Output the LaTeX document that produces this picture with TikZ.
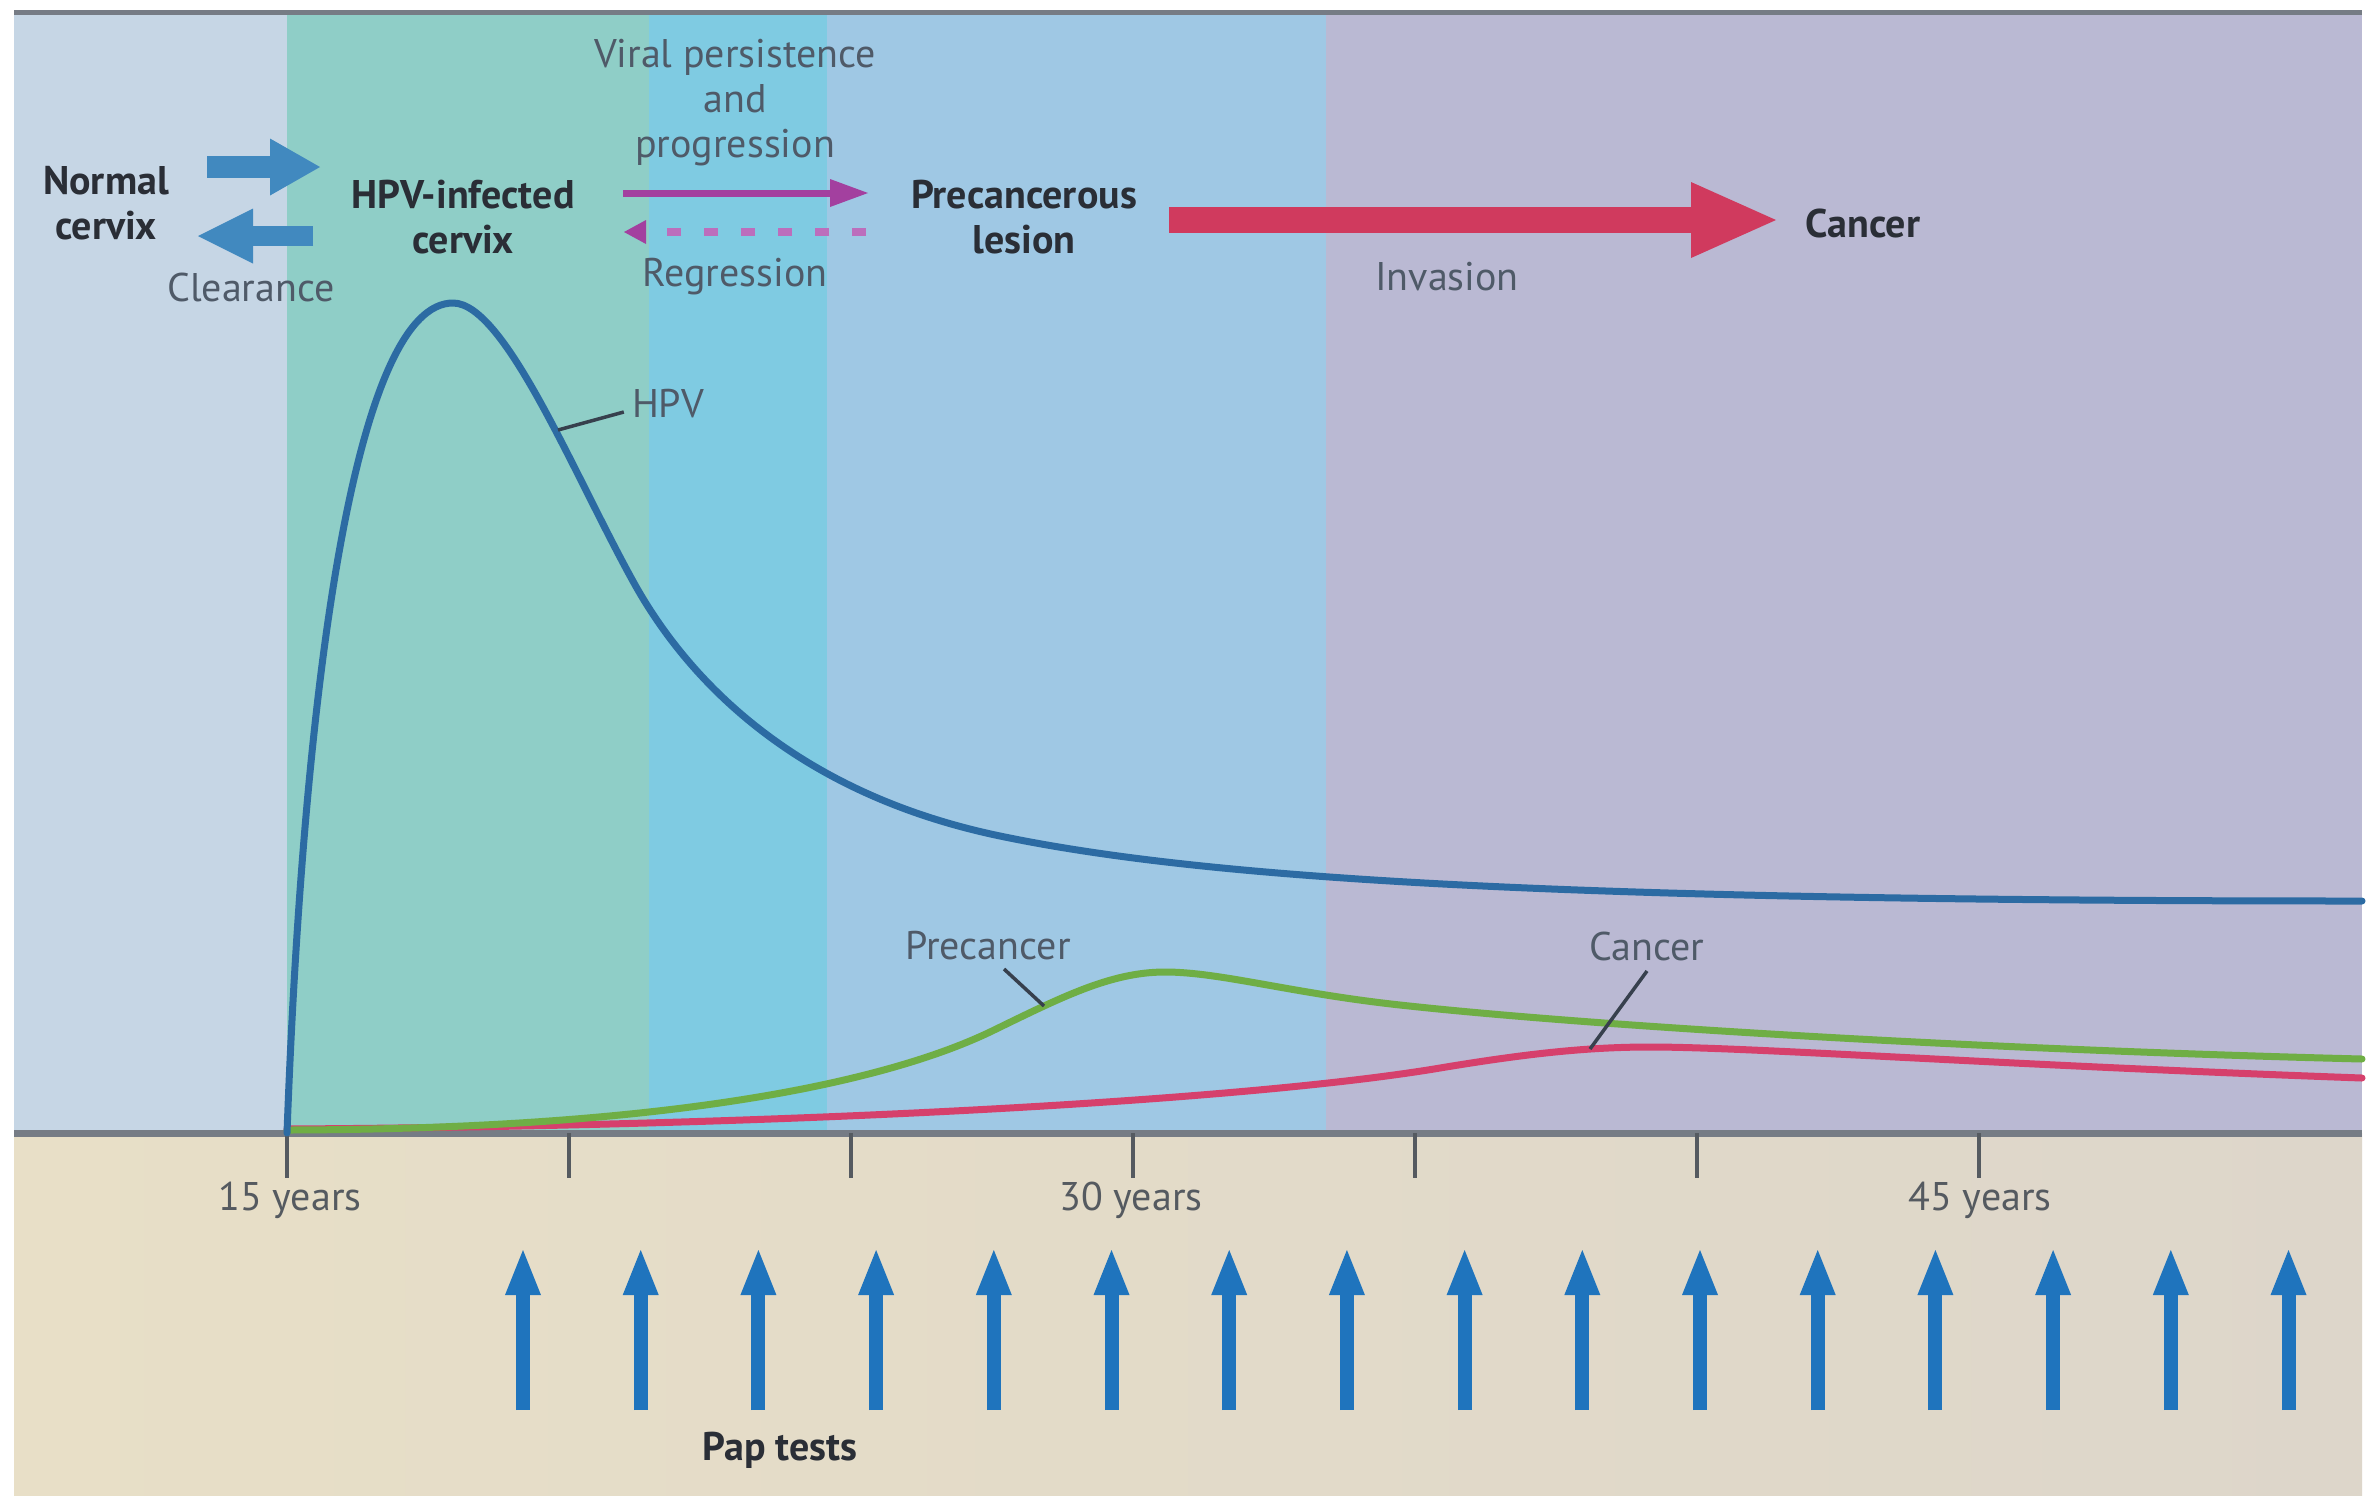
\documentclass[tikz,border=0pt]{standalone}
\usepackage{fontspec}
\setmainfont{PT Sans}
\usetikzlibrary{arrows.meta}
\definecolor{bgA}{HTML}{C6D6E5}
\definecolor{bgB}{HTML}{8FCEC7}
\definecolor{bgC}{HTML}{7FCBE2}
\definecolor{bgD}{HTML}{9FC8E4}
\definecolor{bgE}{HTML}{BAB9D3}
\definecolor{beigeL}{HTML}{E8DFC7}
\definecolor{beigeR}{HTML}{DDD6CA}
\definecolor{hpvblue}{HTML}{2C6BA3}
\definecolor{precgreen}{HTML}{6FAE45}
\definecolor{cancred}{HTML}{D6406C}
\definecolor{steel}{HTML}{4189BF}
\definecolor{purp}{HTML}{A3409F}
\definecolor{purplite}{HTML}{BC6EBC}
\definecolor{bigred}{HTML}{D03A5E}
\definecolor{papblue}{HTML}{1F74BD}
\definecolor{darktxt}{HTML}{2A2E36}
\definecolor{graytxt}{HTML}{4F5A68}
\definecolor{axisgray}{HTML}{767C85}
\definecolor{tickgray}{HTML}{555A60}
\definecolor{leader}{HTML}{37404D}
\tikzset{
  txt/.style={inner sep=0pt, align=center, font=\fontsize{40}{45}\selectfont},
  statelbl/.style={txt, text=darktxt, font=\fontsize{40}{45}\selectfont\bfseries},
  plainlbl/.style={txt, text=graytxt},
  ticklbl/.style={txt, text=tickgray, font=\fontsize{40}{45}\selectfont},
  curve/.style={line width=7pt, line cap=round, line join=round},
  leaderline/.style={draw=leader, line width=3.5pt},
  tickline/.style={draw=tickgray, line width=4pt},
  papar/.style={draw=papblue, line width=14pt, -{Triangle[width=36pt,length=45pt,line width=0pt]}},
}
\begin{document}
\begin{tikzpicture}[x=1pt,y=-1pt]
\useasboundingbox (0,0) rectangle (2366,1505);
\fill[white] (0,0) rectangle (2366,1505);
% background bands
\fill[bgA] (14,12) rectangle (287,1133);
\fill[bgB] (287,12) rectangle (649,1133);
\fill[bgC] (649,12) rectangle (827,1133);
\fill[bgD] (827,12) rectangle (1326,1133);
\fill[bgE] (1326,12) rectangle (2362,1133);
\shade[left color=beigeL, right color=beigeR] (14,1133) rectangle (2362,1495);
\draw[draw=axisgray, line width=5pt] (14,12) -- (2362,12);
% axis and ticks
\draw[draw=axisgray, line width=7pt] (14,1133) -- (2362,1133);
\foreach \x in {287,569,851,1133,1415,1697,1979}
  \draw[tickline] (\x,1133) -- (\x,1178);
\node[ticklbl] (t15) at (290,1200) {15 years};
\node[ticklbl] (t30) at (1131,1200) {30 years};
\node[ticklbl] (t45) at (1980,1200) {45 years};
% curves
\draw[curve, draw=cancred] (287,1129)
  .. controls (800,1126) and (1250,1100) .. (1440,1068)
  .. controls (1530,1053) and (1590,1047) .. (1650,1047)
  .. controls (1750,1047) and (2000,1065) .. (2362,1078);
\draw[curve, draw=precgreen] (287,1130)
  .. controls (700,1129) and (900,1075) .. (990,1032)
  .. controls (1060,998) and (1110,972) .. (1165,972)
  .. controls (1220,972) and (1290,993) .. (1400,1005)
  .. controls (1600,1027) and (2000,1050) .. (2362,1059);
\draw[curve, draw=hpvblue] (287,1133)
  .. controls (305,650) and (360,303) .. (453,303)
  .. controls (505,303) and (574,475) .. (634,583)
  .. controls (679,664) and (780,790) .. (1000,836)
  .. controls (1220,882) and (1600,901) .. (2362,901);
% curve labels
\node[plainlbl] (hpv) at (668,404) {HPV};
\coordinate (hpvpt) at (558,430);
\draw[leaderline] (hpv.west) ++(-8,8) -- (hpvpt);
\node[plainlbl] (prec) at (988,946) {Precancer};
\coordinate (precpt) at (1044,1006);
\draw[leaderline] (1004,969) -- (precpt);
\node[plainlbl] (canc) at (1647,946) {Cancer};
\coordinate (cancpt) at (1590,1049);
\draw[leaderline] (1647,971) -- (cancpt);
% top states
\node[statelbl] (normal) at (106,203) {Normal\\cervix};
\node[statelbl] (infected) at (463,217) {HPV-infected\\cervix};
\node[statelbl] (lesion) at (1024,217) {Precancerous\\lesion};
\node[statelbl] (cancer) at (1863,223) {Cancer};
\node[plainlbl] (clear) at (251,287) {Clearance};
\node[plainlbl] (viral) at (735,103) {Viral persistence\\and\\progression};
\node[plainlbl] (regr) at (735,277) {Regression};
\node[plainlbl] (inv) at (1447,277) {Invasion};
% transition arrows
\coordinate (n2i-a) at (207,167);
\coordinate (n2i-b) at (320,167);
\draw[draw=steel, line width=22pt, -{Triangle[width=57pt,length=50pt,line width=0pt]}] (n2i-a) -- (n2i-b);
\coordinate (i2n-a) at (313,236);
\coordinate (i2n-b) at (198,236);
\draw[draw=steel, line width=20pt, -{Triangle[width=55pt,length=55pt,line width=0pt]}] (i2n-a) -- (i2n-b);
\coordinate (i2l-a) at (623,193);
\coordinate (i2l-b) at (868,193);
\draw[draw=purp, line width=7pt, -{Triangle[width=28pt,length=38pt,line width=0pt]}] (i2l-a) -- (i2l-b);
\coordinate (l2i-a) at (866,232);
\coordinate (l2i-b) at (624,232);
\draw[draw=purplite, line width=8pt, dash pattern=on 14pt off 23pt, -{Triangle[width=24pt,length=22pt,line width=0pt,color=purp]}] (l2i-a) -- (l2i-b);
\coordinate (l2c-a) at (1169,220);
\coordinate (l2c-b) at (1776,220);
\draw[draw=bigred, line width=26pt, -{Triangle[width=76pt,length=85pt,line width=0pt]}] (l2c-a) -- (l2c-b);
% pap tests
\foreach \i in {0,...,15}
  \draw[papar] ({523+117.7*\i},1410) -- ({523+117.7*\i},1250);
\node[statelbl] (pap) at (780,1450) {Pap tests};
\end{tikzpicture}
\end{document}
